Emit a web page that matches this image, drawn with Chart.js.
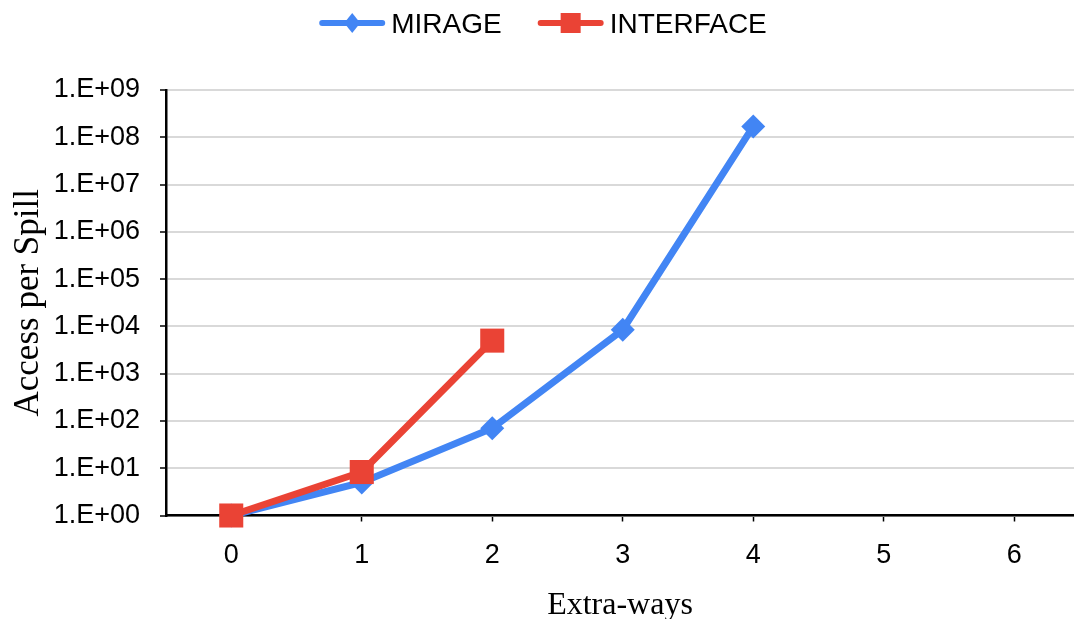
<!DOCTYPE html>
<html>
<head>
<meta charset="utf-8">
<title>Access per Spill vs Extra-ways</title>
<script src="https://cdn.jsdelivr.net/npm/chart.js@4.4.1/dist/chart.umd.min.js"></script>
<style>
  html, body { margin: 0; padding: 0; background: #ffffff; overflow: hidden; }
  #wrap { width: 1074px; height: 619px; }
</style>
</head>
<body>
<div id="wrap"><canvas id="chart" width="1074" height="619"></canvas></div>
<script>
// Extra-ways categories on the x axis
const extraWays = ['0', '1', '2', '3', '4', '5', '6'];

// Accesses per spill for each design (log scale)
const mirageValues = [1, 5, 70, 8500, 1.7e8];
const interfaceValues = [1, 8.3, 5000];

// Decade ticks on the y axis and their printed labels
const yTickValues = [1, 1e1, 1e2, 1e3, 1e4, 1e5, 1e6, 1e7, 1e8, 1e9];
const yTickLabels = ['1.E+00', '1.E+01', '1.E+02', '1.E+03', '1.E+04',
                     '1.E+05', '1.E+06', '1.E+07', '1.E+08', '1.E+09'];

const BLUE = '#4285F4';
const RED = '#EA4335';

const serif = "'Liberation Serif', 'Times New Roman', serif";
const sans = "'Liberation Sans', Arial, sans-serif";

const toPoints = vals => vals.map((v, i) => ({ x: i, y: v }));

// Legend along the top: a short line with the series marker, then the name
const topLegend = {
  id: 'topLegend',
  afterDraw(chart) {
    const ctx = chart.ctx;
    const lineLen = 66, textGap = 6, itemGap = 36, cy = 23;
    ctx.save();
    ctx.font = '28px ' + sans;
    const items = chart.data.datasets.map(ds => ({
      ds, w: lineLen + textGap + ctx.measureText(ds.label).width
    }));
    const total = items.reduce((s, it) => s + it.w, 0) + itemGap * (items.length - 1);
    let x = chart.width / 2 + 6 - total / 2;
    items.forEach(({ ds, w }) => {
      ctx.strokeStyle = ds.borderColor;
      ctx.lineWidth = 6;
      ctx.lineCap = 'round';
      ctx.beginPath();
      ctx.moveTo(x + 3, cy);
      ctx.lineTo(x + lineLen - 3, cy);
      ctx.stroke();
      ctx.fillStyle = ds.backgroundColor;
      const mx = x + lineLen / 2;
      ctx.beginPath();
      if (ds.pointStyle === 'rectRot') {
        ctx.moveTo(mx, cy - 10); ctx.lineTo(mx + 8, cy);
        ctx.lineTo(mx, cy + 10); ctx.lineTo(mx - 8, cy);
        ctx.closePath();
      } else {
        ctx.rect(mx - 10, cy - 10, 20, 20);
      }
      ctx.fill();
      ctx.fillStyle = '#000';
      ctx.textBaseline = 'alphabetic';
      ctx.textAlign = 'left';
      ctx.fillText(ds.label, x + lineLen + textGap, cy + 10);
      x += w + itemGap;
    });
    ctx.restore();
  }
};

new Chart(document.getElementById('chart'), {
  type: 'line',
  data: {
    datasets: [
      {
        label: 'MIRAGE',
        data: toPoints(mirageValues),
        borderColor: BLUE,
        backgroundColor: BLUE,
        borderWidth: 7,
        pointStyle: 'rectRot',
        pointRadius: 12,
        pointHoverRadius: 12,
        pointBorderWidth: 0,
        tension: 0,
        clip: false,
        order: 2
      },
      {
        label: 'INTERFACE',
        data: toPoints(interfaceValues),
        borderColor: RED,
        backgroundColor: RED,
        borderWidth: 7,
        pointStyle: 'rect',
        pointRadius: 17,
        pointHoverRadius: 17,
        pointBorderWidth: 0,
        tension: 0,
        clip: false,
        order: 1
      }
    ]
  },
  plugins: [topLegend],
  options: {
    responsive: false,
    animation: false,
    events: [],
    layout: {
      autoPadding: false,
      padding: { left: 8, right: 0, top: 90, bottom: 0 }
    },
    plugins: {
      tooltip: { enabled: false },
      legend: { display: false }
    },
    scales: {
      x: {
        type: 'linear',
        min: -0.5,
        max: 6.458,
        afterBuildTicks: scale => {
          scale.ticks = extraWays.map((_, i) => ({ value: i }));
        },
        afterFit: scale => {
          scale.height = 103.5;
          scale.paddingLeft = 0;
          scale.paddingRight = 0;
        },
        ticks: {
          color: '#000',
          font: { family: sans, size: 27 },
          padding: 18,
          autoSkip: false,
          maxRotation: 0,
          callback: (value) => extraWays[Math.round(value)]
        },
        grid: {
          drawOnChartArea: false,
          drawTicks: true,
          tickLength: 6,
          tickColor: '#000',
          tickWidth: 1.5
        },
        border: { display: true, color: '#000', width: 2.5 },
        title: {
          display: true,
          text: 'Extra-ways',
          color: '#000',
          font: { family: serif, size: 32, lineHeight: 1 },
          padding: { top: 0, bottom: -3 }
        }
      },
      y: {
        type: 'logarithmic',
        min: 1,
        max: 1e9,
        afterBuildTicks: scale => {
          scale.ticks = yTickValues.map(v => ({ value: v }));
        },
        afterFit: scale => {
          scale.width = 158;
        },
        ticks: {
          color: '#000',
          font: { family: sans, size: 27 },
          padding: 20,
          autoSkip: false,
          callback: (value) => yTickLabels[yTickValues.indexOf(value)]
        },
        grid: {
          color: '#d9d9d9',
          lineWidth: 2,
          drawTicks: true,
          tickLength: 6,
          tickColor: '#000',
          tickWidth: 1.5
        },
        border: { display: true, color: '#000', width: 2.5 },
        title: {
          display: true,
          text: 'Access per Spill',
          color: '#000',
          font: { family: serif, size: 35 },
          padding: { top: 0, bottom: 0 }
        }
      }
    }
  }
});
</script>
</body>
</html>
